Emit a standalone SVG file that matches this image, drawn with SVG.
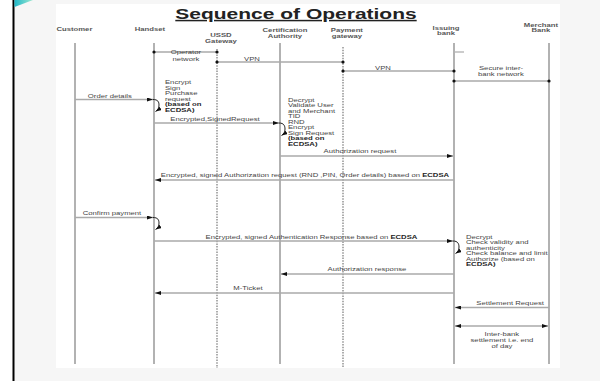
<svg xmlns="http://www.w3.org/2000/svg" width="600" height="381" viewBox="0 0 600 381">
<style>
.t{font-family:"Liberation Sans",Arial,sans-serif;font-size:5.5px;fill:#444;}
.h{font-weight:bold;fill:#555;}
.b{font-weight:bold;fill:#222;}
.c{text-anchor:middle;transform:scaleX(1.4);transform-box:fill-box;transform-origin:center;}
.l{transform:scaleX(1.4);transform-box:fill-box;transform-origin:left center;}
.r{text-anchor:end;transform:scaleX(1.4);transform-box:fill-box;transform-origin:right center;}
.ll{stroke:#999;stroke-width:1.5;fill:none;}
.dl{stroke:#777;stroke-width:1.2;stroke-dasharray:1.5 1.2;fill:none;}
.m{stroke:#aaa;stroke-width:1.5;fill:none;}
.n{stroke:#aaa;stroke-width:1.5;fill:none;}
.lp{stroke:#222;stroke-width:1;fill:none;}
.dot{fill:#111;}
</style>
<defs>
<marker id="ah" viewBox="0 0 6 4" refX="6" refY="2" markerWidth="6" markerHeight="4" markerUnits="userSpaceOnUse" orient="auto">
<path d="M0,0 L6,2 L0,4 z" fill="#111"/>
</marker>
<marker id="ahs" viewBox="0 0 6 4" refX="6" refY="2" markerWidth="6" markerHeight="4" markerUnits="userSpaceOnUse" orient="auto-start-reverse">
<path d="M0,0 L6,2 L0,4 z" fill="#111"/>
</marker>
<linearGradient id="tg" x1="0" y1="0" x2="1" y2="0">
<stop offset="0" stop-color="#20b8c8"/>
<stop offset="1" stop-color="#a0e8d0"/>
</linearGradient>
</defs>
<rect x="0" y="0" width="600" height="381" fill="#f6f6f6"/>
<rect x="0" y="0" width="13" height="381" fill="#ffffff"/>
<rect x="56" y="4" width="504" height="364" fill="#ffffff"/>
<rect x="12.5" y="0" width="2" height="381" fill="#000"/>
<polygon points="14.5,0 33,0 14.5,7" fill="url(#tg)"/>

<text class="t b c" x="296" y="19" style="font-size:15px;text-decoration:underline">Sequence of Operations</text>

<g id="customer">
<text class="t h c" x="74.5" y="31">Customer</text>
<line class="ll" x1="75" y1="43" x2="75" y2="364"/>
</g>
<g id="handset">
<text class="t h c" x="150" y="31">Handset</text>
<line class="ll" x1="154" y1="43" x2="154" y2="364"/>
</g>
<g id="ussd">
<text class="t h c" x="221" y="37">USSD</text>
<text class="t h c" x="221" y="43.5">Gateway</text>
<line class="dl" x1="217" y1="49" x2="217" y2="368"/>
</g>
<g id="ca">
<text class="t h c" x="285" y="32.5">Certification</text>
<text class="t h c" x="285" y="38.5">Authority</text>
<line class="ll" x1="280" y1="43" x2="280" y2="364"/>
</g>
<g id="payment">
<text class="t h c" x="347" y="32.5">Payment</text>
<text class="t h c" x="347" y="38.5">gateway</text>
<line class="dl" x1="343" y1="47" x2="343" y2="368"/>
</g>
<g id="issuing">
<text class="t h c" x="446" y="30">Issuing</text>
<text class="t h c" x="446" y="35.5">bank</text>
<line class="ll" x1="454" y1="43" x2="454" y2="364"/>
<line class="ll" x1="455" y1="52" x2="464" y2="52" style="stroke-width:1"/>
</g>
<g id="merchant">
<text class="t h c" x="541" y="27">Merchant</text>
<text class="t h c" x="541" y="32.5">Bank</text>
<line class="ll" x1="549" y1="43" x2="549" y2="364"/>
</g>

<g id="networks">
<line class="n" x1="154" y1="52" x2="217" y2="52"/>
<circle class="dot" cx="154" cy="52" r="1.6"/><circle class="dot" cx="217" cy="52" r="1.6"/>
<text class="t c" x="186" y="54.5">Operator</text>
<text class="t c" x="186" y="61">network</text>
<line class="n" x1="217" y1="62" x2="343" y2="62"/>
<circle class="dot" cx="217" cy="62" r="1.6"/><circle class="dot" cx="343" cy="62" r="1.6"/>
<text class="t c" x="252" y="61">VPN</text>
<line class="n" x1="343" y1="71" x2="454" y2="71"/>
<circle class="dot" cx="343" cy="71" r="1.6"/><circle class="dot" cx="454" cy="71" r="1.6"/>
<text class="t c" x="383" y="70.5">VPN</text>
<line class="n" x1="454" y1="81" x2="549" y2="81"/>
<circle class="dot" cx="454" cy="81" r="1.6"/><circle class="dot" cx="549" cy="81" r="1.6"/>
<text class="t c" x="501" y="70">Secure inter-</text>
<text class="t c" x="501" y="76">bank network</text>
</g>

<g id="notes">
<text class="t l" x="165" y="84.5">Encrypt</text>
<text class="t l" x="165" y="90">Sign</text>
<text class="t l" x="165" y="95.5">Purchase</text>
<text class="t l" x="165" y="101">request</text>
<text class="t b l" x="165" y="106.5">(based on</text>
<text class="t b l" x="165" y="112">ECDSA)</text>

<text class="t l" x="288" y="102">Decrypt</text>
<text class="t l" x="288" y="107.5">Validate User</text>
<text class="t l" x="288" y="113">and Merchant</text>
<text class="t l" x="288" y="118.5">TID</text>
<text class="t l" x="288" y="124">RND</text>
<text class="t l" x="288" y="129.5">Encrypt</text>
<text class="t l" x="288" y="135">Sign Request</text>
<text class="t b l" x="288" y="140.5">(based on</text>
<text class="t b l" x="288" y="146">ECDSA)</text>

<text class="t l" x="466" y="239">Decrypt</text>
<text class="t l" x="466" y="244.5">Check validity and</text>
<text class="t l" x="466" y="250">authenticity</text>
<text class="t l" x="466" y="255.5">Check balance and limit</text>
<text class="t l" x="466" y="261">Authorize (based on</text>
<text class="t b l" x="466" y="266.5">ECDSA)</text>

<text class="t c" x="502" y="336">Inter-bank</text>
<text class="t c" x="502" y="342">settlement i.e. end</text>
<text class="t c" x="502" y="348">of day</text>
</g>

<g id="connectors">
<line class="m" x1="75" y1="99.5" x2="153" y2="99.5" marker-end="url(#ah)"/>
<text class="t c" x="110" y="98">Order details</text>
<path class="lp" d="M153,99.5 C158,99.5 159,102 159,105 C159,108 158,110 155.5,111.5" marker-end="url(#ah)"/>

<line class="m" x1="154" y1="123" x2="279" y2="123" marker-end="url(#ah)"/>
<text class="t c" x="215" y="121">Encrypted,SignedRequest</text>
<path class="lp" d="M279,123 C284,123 285,126 285,129 C285,132 284,134 281.5,135.5" marker-end="url(#ah)"/>

<line class="m" x1="280" y1="156" x2="453" y2="156" marker-end="url(#ah)"/>
<text class="t c" x="360" y="153">Authorization request</text>

<line class="m" x1="454" y1="180" x2="155" y2="180" marker-end="url(#ah)"/>
<text class="t c" x="305" y="177">Encrypted, signed Authorization request (RND ,PIN, Order details) based on <tspan class="b">ECDSA</tspan></text>

<line class="m" x1="75" y1="217.5" x2="153" y2="217.5" marker-end="url(#ah)"/>
<text class="t c" x="112" y="215">Confirm payment</text>
<path class="lp" d="M153,217.5 C158,217.5 159,220 159,223 C159,226 158,228 155.5,229.5" marker-end="url(#ah)"/>

<line class="m" x1="154" y1="241" x2="453" y2="241" marker-end="url(#ah)"/>
<text class="t c" x="311.5" y="239">Encrypted, signed Authentication Response based on <tspan class="b">ECDSA</tspan></text>
<path class="lp" d="M453,241 C458,241 459,244 459,247 C459,250 458,252 455.5,253.5" marker-end="url(#ah)"/>

<line class="m" x1="454" y1="274" x2="281" y2="274" marker-end="url(#ah)"/>
<text class="t c" x="367" y="271">Authorization response</text>

<line class="m" x1="454" y1="293" x2="155" y2="293" marker-end="url(#ah)"/>
<text class="t c" x="248" y="290">M-Ticket</text>

<line class="m" x1="549" y1="307.5" x2="455" y2="307.5" marker-end="url(#ah)"/>
<text class="t r" x="544" y="305">Settlement Request</text>

<line class="m" x1="455" y1="326" x2="548" y2="326" marker-start="url(#ahs)" marker-end="url(#ah)"/>
</g>
</svg>
